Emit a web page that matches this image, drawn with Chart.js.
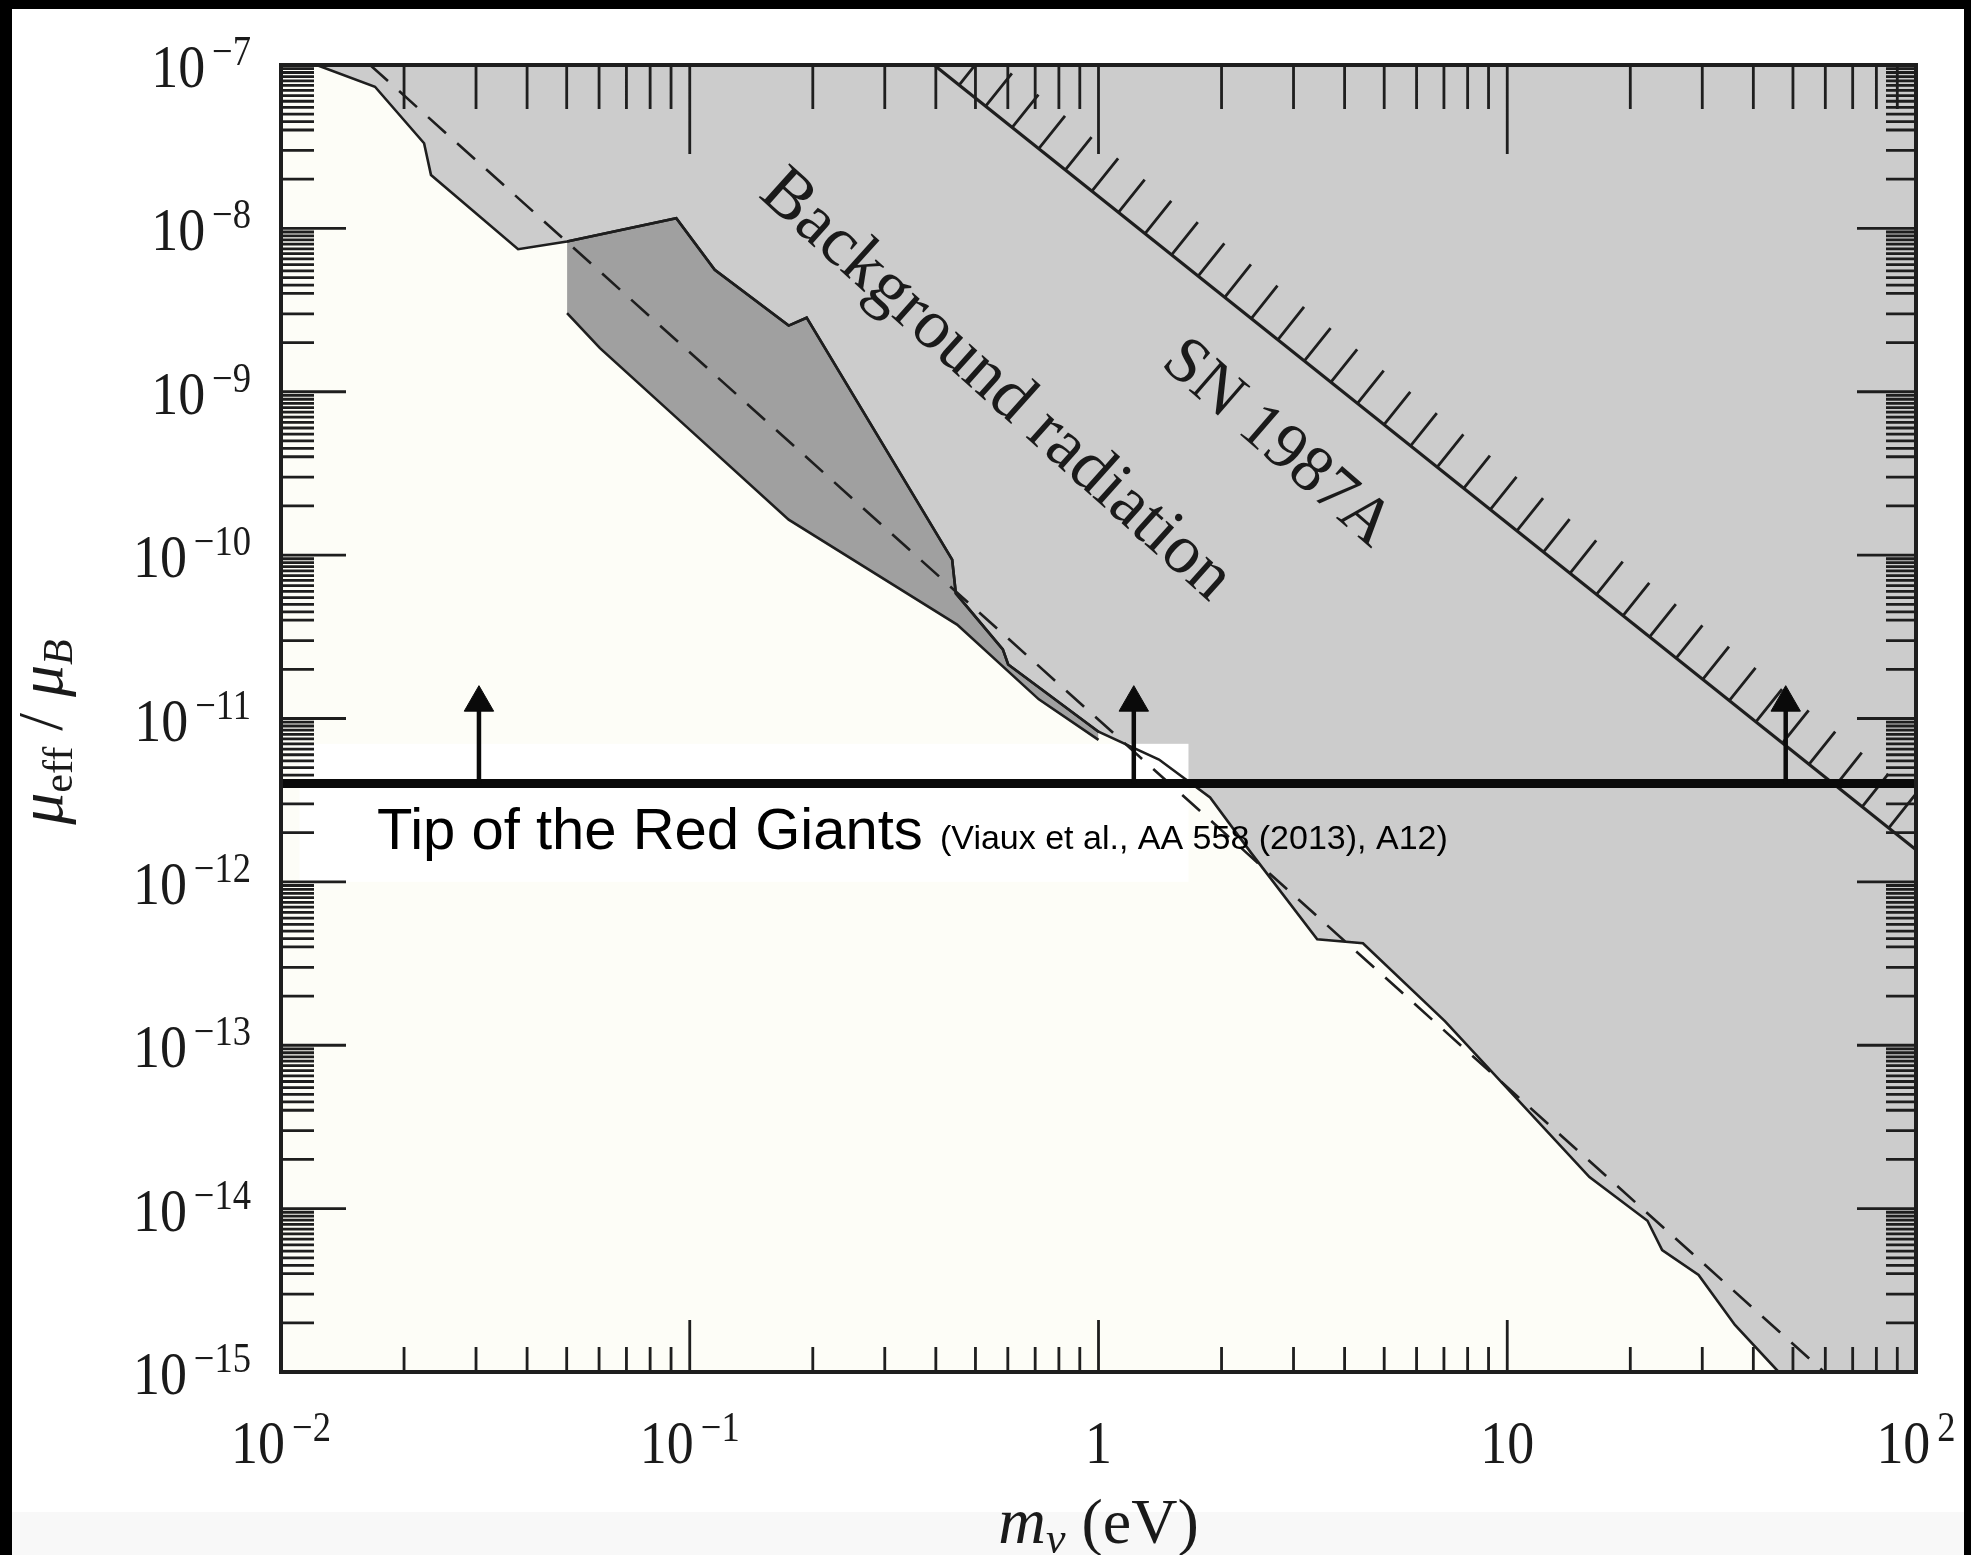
<!DOCTYPE html>
<html>
<head>
<meta charset="utf-8">
<title>Neutrino magnetic moment limits</title>
<script src="https://cdn.jsdelivr.net/npm/chart.js@4.4.1/dist/chart.umd.min.js"></script>
<style>
  html, body { margin: 0; padding: 0; background: #000; }
  body { position: relative; width: 1971px; height: 1555px; overflow: hidden; }
  #sheet { position: absolute; left: 12px; top: 9px; width: 1952px; height: 1503px; background: #fff; }
  #strip { position: absolute; left: 12px; top: 1512px; width: 1952px; height: 43px; background: #f8f8f8; }
  #chart { position: absolute; left: 0; top: 0; }
</style>
</head>
<body>
<div id="sheet"></div>
<div id="strip"></div>
<canvas id="chart" width="1971" height="1555"></canvas>
<script>
// axis ranges
const massRange = [0.01, 100]
const muRange = [1e-15, 1e-7]

// ticks and their labels
const massTicks = [0.01, 0.1, 1, 10, 100]
const massTickBase = ['10', '10', '1', '10', '10']
const massTickExp = ['−2', '−1', '', '', '2']
const muTicks = [1e-7, 1e-8, 1e-9, 1e-10, 1e-11, 1e-12, 1e-13, 1e-14, 1e-15]
const muTickExp = ['−7', '−8', '−9', '−10', '−11', '−12', '−13', '−14', '−15']
const massMinorSteps = [2, 3, 4, 5, 6, 7, 8, 9]
const muMinorSteps = [2, 3, 4, 4.5, 5, 5.5, 6, 6.5, 7, 7.5, 8, 8.5, 9, 9.5]

// edge of the excluded (light grey) region
const edgeMass = [0.01222, 0.01698, 0.02239, 0.02328, 0.03802, 0.0501, 0.0927, 0.1151, 0.1746, 0.1932,
  0.4385, 0.4477, 0.5834, 0.6012, 1.0, 1.406, 1.875, 2.36, 3.428, 4.436, 7.047, 15.89, 22.03, 23.93,
  29.38, 36.06, 46.13, 100]
const edgeMu = [1e-7, 7.36e-8, 3.32e-8, 2.12e-8, 7.46e-9, 8.3e-9, 1.153e-8, 5.57e-9, 2.54e-9, 2.84e-9,
  9.38e-11, 5.83e-11, 2.65e-11, 2.14e-11, 8.3e-12, 5.61e-12, 3.29e-12, 1.51e-12, 4.45e-13, 4.21e-13,
  1.4e-13, 1.56e-14, 8.43e-15, 5.58e-15, 3.93e-15, 1.94e-15, 1e-15, 1e-15]

// dark grey band
const darkUpperMass = [0.0501, 0.0927, 0.1151, 0.1746, 0.1932, 0.4385, 0.4477, 0.5834, 0.6012, 1.0]
const darkUpperMu = [8.3e-9, 1.153e-8, 5.57e-9, 2.54e-9, 2.84e-9, 9.38e-11, 5.83e-11, 2.65e-11, 2.14e-11, 8.3e-12]
const darkLowerMass = [0.0501, 0.0603, 0.1012, 0.1746, 0.4508, 0.7145, 1.0]
const darkLowerMu = [3.03e-9, 1.85e-9, 5.7e-10, 1.65e-10, 3.76e-11, 1.31e-11, 7.4e-12]

// dashed background-radiation line
const dashMass = [0.01652, 59.6]
const dashMu = [1e-7, 1e-15]

// SN 1987A bound
const snMass = [0.396, 100]
const snMu = [1e-7, 1.57e-12]

// tip of the red giant branch
const redGiantMu = 4e-12
const arrowMass = [0.0305, 1.22, 48]
const arrowHeadMu = 1.25e-11

const SERIF = '"Liberation Serif", "DejaVu Serif", serif'
const SANS = '"Liberation Sans", Arial, sans-serif'
const INK = '#1e1e1e'

const pts = (xs, ys) => xs.map((x, i) => ({ x, y: ys[i] }))

const lineBase = { showLine: true, pointRadius: 0, pointHitRadius: 0, tension: 0, fill: false }

const datasets = [
  { ...lineBase, data: pts(edgeMass, edgeMu), fill: 'end', backgroundColor: '#cccccc', borderColor: INK, borderWidth: 2.6, order: 9 },
  { ...lineBase, data: pts(darkUpperMass, darkUpperMu), fill: 2, backgroundColor: '#a0a0a0', borderColor: INK, borderWidth: 2.6, order: 8 },
  { ...lineBase, data: pts(darkLowerMass, darkLowerMu), borderColor: INK, borderWidth: 2.6, order: 7 },
  { ...lineBase, data: pts(dashMass, dashMu), borderColor: INK, borderWidth: 2.6, borderDash: [24, 15], order: 6 },
  { ...lineBase, data: pts(snMass, snMu), borderColor: INK, borderWidth: 3.2, order: 5 },
  { ...lineBase, data: pts(massRange, [redGiantMu, redGiantMu]), borderColor: '#0a0a0a', borderWidth: 9, order: 2 }
]
arrowMass.forEach(m => {
  datasets.push({
    ...lineBase,
    data: [{ x: m, y: redGiantMu }, { x: m, y: arrowHeadMu }],
    borderColor: '#0a0a0a',
    borderWidth: 4.5,
    pointRadius: [0, 17],
    pointStyle: 'triangle',
    pointBackgroundColor: '#0a0a0a',
    pointBorderColor: '#0a0a0a',
    pointBorderWidth: 1,
    order: 1
  })
})

function seg(ctx, x0, y0, x1, y1) {
  ctx.moveTo(x0, y0)
  ctx.lineTo(x1, y1)
}

// "10" with a raised exponent, squeezed a little to match the original face
function drawPower(ctx, base, exp, x, y, align) {
  const sx = 0.87
  ctx.font = `62px ${SERIF}`
  const wb = ctx.measureText(base).width * sx
  let we = 0
  if (exp) {
    ctx.font = `42px ${SERIF}`
    we = ctx.measureText(exp).width * sx + 7
  }
  const total = wb + we
  const left = align === 'right' ? x - total : x - total / 2
  ctx.save()
  ctx.translate(left, y)
  ctx.scale(sx, 1)
  ctx.textAlign = 'left'
  ctx.textBaseline = 'alphabetic'
  ctx.font = `62px ${SERIF}`
  ctx.fillText(base, 0, 0)
  if (exp) {
    ctx.font = `42px ${SERIF}`
    ctx.fillText(exp, (wb + 7) / sx, -22)
  }
  ctx.restore()
}

function drawRich(ctx, parts, x, y, angle) {
  ctx.save()
  ctx.translate(x, y)
  ctx.rotate(angle)
  ctx.textAlign = 'left'
  ctx.textBaseline = 'alphabetic'
  let total = 0
  parts.forEach(p => {
    ctx.font = p.font
    p.w = ctx.measureText(p.text).width
    total += p.w
  })
  let cx = -total / 2
  parts.forEach(p => {
    ctx.font = p.font
    ctx.fillText(p.text, cx, p.dy || 0)
    cx += p.w
  })
  ctx.restore()
}

function angleOf(chart, ms, mus) {
  const xs = chart.scales.x, ys = chart.scales.y
  const dx = xs.getPixelForValue(ms[1]) - xs.getPixelForValue(ms[0])
  const dy = ys.getPixelForValue(mus[1]) - ys.getPixelForValue(mus[0])
  return Math.atan2(dy, dx)
}

const decorations = {
  id: 'decorations',
  beforeDraw(chart) {
    const { ctx, chartArea: a } = chart
    ctx.save()
    ctx.fillStyle = '#fdfdf7'
    ctx.fillRect(a.left, a.top, a.right - a.left, a.bottom - a.top)
    ctx.restore()
  },
  beforeDatasetsDraw(chart) {
    const { ctx, chartArea: a } = chart
    const xs = chart.scales.x, ys = chart.scales.y

    ctx.save()
    ctx.beginPath()
    ctx.rect(a.left, a.top, a.right - a.left, a.bottom - a.top)
    ctx.clip()

    // white patch pasted behind the red giant label
    const px0 = xs.getPixelForValue(0.0111), px1 = xs.getPixelForValue(1.66)
    const py0 = ys.getPixelForValue(7.0e-12), py1 = ys.getPixelForValue(1.0e-12)
    ctx.fillStyle = '#ffffff'
    ctx.fillRect(px0, py0, px1 - px0, py1 - py0)

    // hatching on the SN 1987A line
    const x0 = xs.getPixelForValue(snMass[0]), y0 = ys.getPixelForValue(snMu[0])
    const x1 = xs.getPixelForValue(snMass[1]), y1 = ys.getPixelForValue(snMu[1])
    const len = Math.hypot(x1 - x0, y1 - y0)
    const ux = (x1 - x0) / len, uy = (y1 - y0) / len
    const nx = uy, ny = -ux
    const anchor = (xs.getPixelForValue(22.3) - x0) / ux
    const step = 34, hl = 42
    ctx.strokeStyle = INK
    ctx.lineWidth = 2.8
    ctx.beginPath()
    for (let s = (anchor % step) - step; s <= len + step; s += step) {
      const bx = x0 + ux * s, by = y0 + uy * s
      seg(ctx, bx, by, bx + nx * hl, by + ny * hl)
    }
    ctx.stroke()

    // ticks on all four sides, pointing inward
    ctx.lineWidth = 2.8
    ctx.beginPath()
    massTicks.forEach((v, i) => {
      const p = xs.getPixelForValue(v)
      seg(ctx, p, a.bottom, p, a.bottom - 52)
      seg(ctx, p, a.top, p, a.top + 89)
      if (i < massTicks.length - 1) {
        massMinorSteps.forEach(k => {
          const q = xs.getPixelForValue(k * v)
          seg(ctx, q, a.bottom, q, a.bottom - 25)
          seg(ctx, q, a.top, q, a.top + 44)
        })
      }
    })
    muTicks.forEach((v, i) => {
      const p = ys.getPixelForValue(v)
      seg(ctx, a.left, p, a.left + 65, p)
      seg(ctx, a.right, p, a.right - 59, p)
      if (i > 0) {
        muMinorSteps.forEach(k => {
          const q = ys.getPixelForValue(k * v)
          seg(ctx, a.left, q, a.left + 33, q)
          seg(ctx, a.right, q, a.right - 30, q)
        })
      }
    })
    ctx.stroke()
    ctx.restore()
  },
  afterDatasetsDraw(chart) {
    const { ctx, chartArea: a } = chart
    const xs = chart.scales.x, ys = chart.scales.y

    ctx.save()
    ctx.strokeStyle = INK
    ctx.lineWidth = 4
    ctx.strokeRect(a.left, a.top, a.right - a.left, a.bottom - a.top)

    ctx.fillStyle = '#1a1a1a'

    // tick labels
    massTicks.forEach((v, i) => {
      drawPower(ctx, massTickBase[i], massTickExp[i], xs.getPixelForValue(v), 1463, 'center')
    })
    muTicks.forEach((v, i) => {
      drawPower(ctx, '10', muTickExp[i], 251, ys.getPixelForValue(v) + 22, 'right')
    })

    // axis titles
    drawRich(ctx, [
      { text: 'm', font: `italic 66px ${SERIF}` },
      { text: 'ν', font: `italic 44px ${SERIF}`, dy: 10 },
      { text: ' (eV)', font: `64px ${SERIF}` }
    ], (a.left + a.right) / 2, 1543, 0)
    drawRich(ctx, [
      { text: 'μ', font: `italic 64px ${SERIF}` },
      { text: 'eff', font: `42px ${SERIF}`, dy: 10 },
      { text: ' / ', font: `64px ${SERIF}` },
      { text: 'μ', font: `italic 64px ${SERIF}` },
      { text: 'B', font: `italic 42px ${SERIF}`, dy: 10 }
    ], 62, 732, -Math.PI / 2)

    // rotated region labels
    ctx.textAlign = 'center'
    ctx.textBaseline = 'middle'
    ctx.save()
    ctx.translate(xs.getPixelForValue(0.561), ys.getPixelForValue(1.09e-9))
    ctx.rotate(angleOf(chart, dashMass, dashMu))
    ctx.font = `70px ${SERIF}`
    ctx.fillText('Background radiation', 0, 0)
    ctx.restore()

    ctx.save()
    ctx.translate(xs.getPixelForValue(2.73), ys.getPixelForValue(4.81e-10))
    ctx.rotate(angleOf(chart, snMass, snMu) + 0.04)
    ctx.font = `66px ${SERIF}`
    ctx.fillText('SN 1987A', 0, 0)
    ctx.restore()

    // red giant label
    ctx.textAlign = 'left'
    ctx.textBaseline = 'alphabetic'
    ctx.fillStyle = '#000'
    ctx.font = `58px ${SANS}`
    ctx.fillText('Tip of the Red Giants', xs.getPixelForValue(0.01717), ys.getPixelForValue(1.58e-12))
    ctx.font = `34px ${SANS}`
    ctx.fillText('(Viaux et al., AA 558 (2013), A12)', xs.getPixelForValue(0.4095), ys.getPixelForValue(1.6e-12))
    ctx.restore()
  }
}

new Chart(document.getElementById('chart'), {
  type: 'scatter',
  data: { datasets },
  options: {
    responsive: false,
    animation: false,
    events: [],
    layout: { padding: { left: 281, top: 65, right: 55, bottom: 183 } },
    scales: {
      x: { type: 'logarithmic', min: massRange[0], max: massRange[1], display: false },
      y: { type: 'logarithmic', min: muRange[0], max: muRange[1], display: false }
    },
    plugins: {
      legend: { display: false },
      tooltip: { enabled: false },
      filler: { drawTime: 'beforeDatasetsDraw' }
    }
  },
  plugins: [decorations]
})
</script>
</body>
</html>
